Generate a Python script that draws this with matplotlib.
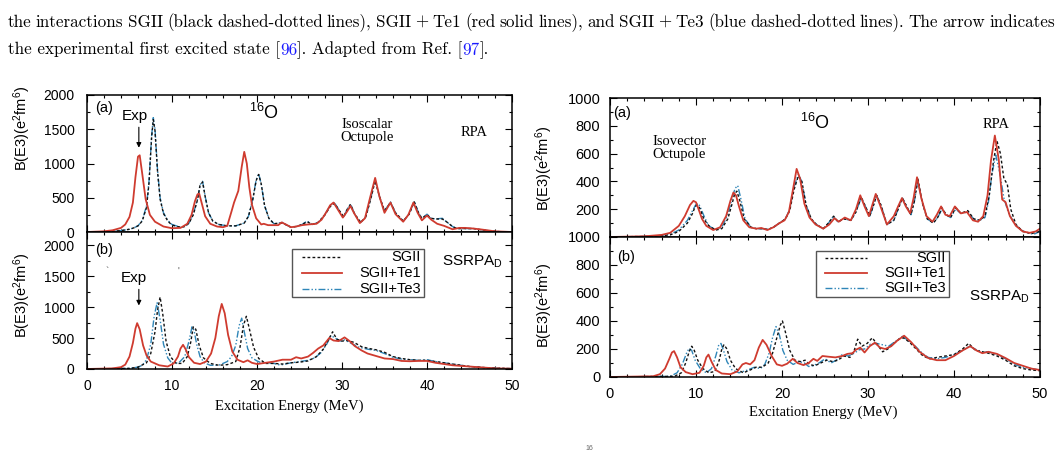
import matplotlib
matplotlib.use("Agg")
import matplotlib.pyplot as plt
from matplotlib.lines import Line2D
from matplotlib.patches import Rectangle

plt.rcParams['font.family'] = ['Liberation Sans', 'DejaVu Sans']
plt.rcParams['mathtext.default'] = 'regular'

# ---------------- data ----------------
series_names = ["SGII", "SGII+Te1", "SGII+Te3"]

# Left (a) isoscalar octupole, RPA
la_te3_x = [0, 2, 4, 5, 5.5, 6, 6.5, 7, 7.3, 7.6, 7.8, 8.0, 8.3, 8.6, 9, 9.5, 10, 11, 11.5, 12, 12.5, 13, 13.3, 13.6, 13.9, 14.3, 14.8, 15.5, 16.5, 17.5, 18.5, 19, 19.5, 19.9, 20.2, 20.5, 20.9, 21.4, 22, 22.6, 23, 23.5, 24, 24.6, 25.3, 25.9, 26.5, 27.2, 28, 28.6, 29.1, 29.6, 30.2, 30.6, 31.0, 31.5, 32.2, 32.8, 33.4, 33.9, 34.4, 35.0, 35.7, 36.3, 37.2, 37.9, 38.5, 39.0, 39.4, 40.0, 40.5, 41.0, 41.8, 42.4, 43, 43.5, 44.5, 45.5, 46.5, 47.5, 48.5, 50]
la_te3_y = [0, 5, 20, 40, 60, 90, 170, 380, 750, 1400, 1670, 1500, 900, 500, 280, 170, 110, 70, 80, 130, 260, 480, 690, 740, 520, 280, 160, 110, 90, 90, 130, 230, 480, 760, 850, 700, 380, 200, 120, 130, 140, 100, 70, 80, 110, 160, 110, 140, 260, 380, 430, 330, 220, 330, 410, 260, 140, 220, 500, 760, 520, 310, 440, 280, 160, 260, 450, 280, 200, 260, 200, 190, 200, 140, 80, 50, 50, 50, 30, 15, 5, 0]
la_sgii_x = la_te3_x
la_sgii_y = [0, 5, 20, 40, 60, 90, 160, 360, 720, 1380, 1640, 1480, 880, 480, 270, 160, 100, 70, 80, 130, 250, 470, 680, 730, 520, 280, 160, 110, 90, 90, 130, 230, 470, 750, 840, 700, 380, 200, 120, 130, 130, 100, 70, 80, 110, 150, 110, 140, 250, 370, 420, 330, 220, 330, 400, 260, 140, 220, 490, 750, 520, 310, 430, 280, 160, 260, 440, 280, 200, 250, 200, 190, 190, 140, 80, 50, 50, 50, 30, 15, 5, 0]
la_te1_x = [0, 2, 3, 4, 4.5, 5, 5.4, 5.7, 6.0, 6.2, 6.5, 6.9, 7.4, 8, 9, 10, 11, 11.8, 12.3, 12.7, 13.0, 13.2, 13.5, 13.9, 14.5, 15.3, 16, 16.5, 17.0, 17.3, 17.8, 18.2, 18.5, 18.8, 19.1, 19.4, 19.9, 20.5, 20.8, 21.3, 22, 22.5, 22.9, 23.4, 24, 24.6, 25.3, 26, 27, 27.6, 28.2, 28.6, 29.0, 29.5, 30.1, 30.6, 31.0, 31.4, 32.1, 32.7, 33.3, 33.9, 34.4, 35.0, 35.7, 36.3, 37.2, 37.8, 38.4, 38.9, 39.4, 40.0, 40.5, 41.2, 42, 43, 43.8, 44.5, 45.5, 46.5, 48, 50]
la_te1_y = [0, 10, 25, 60, 110, 220, 430, 800, 1100, 1120, 850, 480, 250, 150, 80, 55, 60, 120, 250, 450, 550, 560, 420, 230, 120, 80, 70, 90, 300, 430, 600, 950, 1170, 1000, 650, 400, 200, 110, 120, 100, 100, 100, 140, 110, 70, 80, 100, 110, 120, 180, 300, 390, 430, 330, 210, 300, 380, 280, 130, 200, 500, 790, 520, 280, 430, 260, 150, 250, 430, 280, 170, 240, 180, 120, 90, 40, 60, 60, 50, 35, 10, 0]

# Left (b) isoscalar octupole, SSRPA_D
lb_te1_x = [0, 3, 4, 4.5, 5, 5.4, 5.7, 5.9, 6.2, 6.6, 7, 7.5, 8.5, 9.5, 10.2, 10.7, 11.0, 11.3, 11.6, 12.0, 12.6, 13.3, 14, 14.6, 15.1, 15.5, 15.85, 16.2, 16.6, 17.1, 17.7, 18.4, 18.9, 19.4, 20, 21, 22, 23, 24, 24.6, 25.2, 26, 26.6, 27.2, 27.8, 28.5, 29.0, 29.6, 30.3, 30.9, 31.5, 32.3, 33, 34, 35, 36, 37, 38, 39, 40, 41, 42, 43, 44, 45, 46, 47, 48, 50]
lb_te1_y = [0, 10, 30, 70, 200, 420, 650, 740, 640, 380, 220, 120, 60, 40, 90, 200, 330, 390, 320, 190, 100, 80, 120, 250, 500, 850, 1050, 900, 550, 280, 150, 110, 140, 100, 80, 100, 120, 150, 150, 190, 170, 200, 260, 330, 380, 500, 460, 450, 510, 450, 370, 300, 250, 210, 170, 160, 130, 125, 130, 130, 100, 80, 60, 50, 40, 30, 20, 10, 5]
lb_te3_x = [0, 5, 6, 6.5, 7, 7.5, 7.9, 8.25, 8.6, 9, 9.5, 10, 10.8, 11.5, 12.0, 12.35, 12.6, 12.9, 13.3, 13.8, 14.5, 15.5, 16.5, 17.0, 17.5, 17.9, 18.2, 18.5, 18.9, 19.4, 20, 20.5, 21, 22, 22.5, 23, 24, 25, 26, 26.8, 27.5, 28.2, 28.7, 29.2, 29.8, 30.3, 31, 32, 33, 34, 35, 36, 37, 38, 39, 40, 41, 42, 43, 44, 45, 47, 50]
lb_te3_y = [0, 10, 30, 60, 150, 400, 850, 1070, 800, 400, 180, 90, 100, 200, 450, 680, 620, 400, 200, 100, 60, 60, 120, 200, 380, 700, 820, 600, 330, 180, 130, 100, 100, 90, 70, 70, 100, 120, 140, 180, 260, 400, 540, 500, 450, 470, 420, 350, 320, 300, 250, 190, 160, 150, 140, 150, 120, 100, 80, 60, 40, 20, 5]
lb_sgii_x = [0, 5, 6, 7, 7.5, 8.0, 8.3, 8.6, 8.9, 9.3, 9.8, 10.5, 11.2, 11.8, 12.2, 12.5, 12.8, 13.2, 13.7, 14.5, 15.5, 16.5, 17.5, 18.0, 18.4, 18.75, 19.1, 19.6, 20.2, 21, 22, 23, 24, 25, 26, 27, 27.8, 28.4, 28.9, 29.4, 30, 30.6, 31.4, 32.3, 33.2, 34, 35, 36, 37, 38, 39, 40, 41, 42, 43, 44, 45, 47, 50]
lb_sgii_y = [0, 10, 30, 100, 250, 600, 950, 1160, 900, 450, 200, 90, 90, 200, 430, 680, 640, 380, 180, 90, 60, 70, 120, 350, 700, 850, 650, 350, 170, 90, 90, 80, 100, 110, 130, 200, 320, 470, 600, 480, 450, 460, 430, 360, 330, 310, 270, 200, 170, 150, 140, 140, 120, 100, 80, 60, 40, 20, 5]

# Right (a) isovector octupole, RPA
ra_te1_x = [0, 4, 6, 7, 8, 8.7, 9.3, 9.7, 10.0, 10.3, 10.7, 11.2, 12, 12.8, 13.5, 14.0, 14.35, 14.65, 15.0, 15.5, 16.2, 17, 17.6, 18.3, 19, 19.7, 20.3, 20.8, 21.3, 21.7, 22.1, 22.6, 23.2, 23.9, 24.8, 25.5, 26.1, 26.6, 27.3, 28.0, 28.6, 29.1, 29.6, 30.1, 30.5, 30.9, 31.4, 32.2, 33.0, 33.5, 33.95, 34.4, 34.9, 35.3, 35.7, 36.2, 36.8, 37.5, 38.0, 38.5, 39.0, 39.5, 40.1, 40.8, 41.5, 42.2, 42.8, 43.4, 43.9, 44.3, 44.75, 45.2, 45.6, 46.0, 46.5, 47.2, 48, 48.8, 49.5, 50]
ra_te1_y = [0, 5, 15, 30, 80, 150, 230, 260, 250, 200, 130, 80, 50, 70, 150, 260, 320, 300, 220, 120, 70, 60, 65, 50, 70, 100, 120, 180, 350, 490, 420, 240, 140, 90, 60, 90, 135, 110, 140, 120, 200, 300, 220, 150, 230, 310, 230, 90, 150, 220, 280, 220, 170, 280, 430, 280, 150, 110, 160, 220, 160, 150, 220, 170, 180, 120, 110, 150, 300, 550, 730, 560, 270, 250, 150, 80, 40, 30, 40, 60]
ra_te3_x = [0, 5, 7, 8, 9, 9.6, 10.0, 10.3, 10.6, 11.0, 11.5, 12.3, 13.0, 13.7, 14.2, 14.55, 14.85, 15.2, 15.7, 16.4, 17, 17.7, 18.4, 19, 19.7, 20.4, 20.9, 21.4, 21.9, 22.3, 22.8, 23.4, 24, 24.8, 25.4, 26.0, 26.5, 27.2, 28, 28.6, 29.2, 29.7, 30.2, 30.6, 31.0, 31.5, 32.2, 33.0, 33.5, 34.0, 34.5, 35.0, 35.4, 35.8, 36.3, 36.9, 37.6, 38.1, 38.6, 39.1, 39.6, 40.2, 40.8, 41.6, 42.3, 43, 43.6, 44.0, 44.4, 44.85, 45.3, 45.8, 46.3, 47, 47.8, 48.5, 49.3, 50]
ra_te3_y = [0, 5, 20, 50, 120, 190, 235, 240, 200, 140, 80, 50, 70, 160, 280, 350, 370, 280, 130, 70, 60, 60, 55, 70, 100, 130, 200, 360, 450, 400, 230, 130, 90, 60, 100, 150, 110, 130, 120, 180, 280, 220, 150, 220, 300, 230, 90, 120, 200, 280, 220, 160, 260, 410, 250, 130, 100, 140, 200, 160, 140, 200, 170, 180, 130, 120, 140, 250, 450, 590, 470, 280, 180, 100, 50, 30, 20, 40]
ra_sgii_x = [0, 5, 7, 8, 9, 9.6, 9.9, 10.2, 10.5, 10.9, 11.5, 12.3, 13.0, 13.7, 14.2, 14.5, 14.75, 15.1, 15.6, 16.4, 17, 17.7, 18.4, 19, 19.7, 20.4, 20.9, 21.4, 21.9, 22.3, 22.8, 23.4, 24, 24.8, 25.4, 26.0, 26.5, 27.2, 28, 28.6, 29.2, 29.7, 30.2, 30.6, 31.0, 31.5, 32.2, 33.0, 33.5, 34.0, 34.5, 35.0, 35.4, 35.8, 36.3, 36.9, 37.6, 38.1, 38.6, 39.1, 39.6, 40.2, 40.8, 41.6, 42.3, 43, 43.6, 44.1, 44.6, 45.0, 45.4, 45.8, 46.2, 46.6, 47.2, 48, 49, 50]
ra_sgii_y = [0, 5, 15, 40, 100, 170, 220, 230, 200, 130, 80, 50, 60, 130, 240, 310, 330, 260, 130, 70, 60, 60, 55, 70, 100, 130, 190, 340, 440, 400, 230, 130, 90, 60, 100, 150, 110, 130, 120, 180, 290, 220, 150, 220, 300, 230, 90, 120, 200, 280, 220, 160, 260, 420, 250, 130, 100, 140, 210, 160, 140, 210, 170, 190, 130, 120, 150, 300, 550, 690, 600, 420, 380, 200, 90, 40, 25, 40]

# Right (b) isovector octupole, SSRPA_D
rb_te1_x = [0, 5, 5.8, 6.4, 6.9, 7.2, 7.45, 7.8, 8.2, 8.8, 9.6, 10.4, 10.9, 11.2, 11.45, 11.8, 12.3, 13, 14, 14.8, 15.4, 15.8, 16.3, 16.8, 17.3, 17.75, 18.2, 18.8, 19.4, 20, 20.6, 21.25, 21.8, 22.5, 23.1, 23.65, 24.1, 24.7, 25.4, 26.2, 27, 27.6, 28.2, 28.6, 29.1, 29.6, 30.2, 30.8, 31.4, 32.0, 32.7, 33.4, 34.2, 35, 36, 37, 38, 39, 40, 41, 41.9, 42.6, 43.3, 44, 45, 46, 47, 48, 49, 50]
rb_te1_y = [0, 5, 20, 60, 130, 175, 185, 140, 70, 35, 20, 30, 80, 140, 160, 110, 50, 25, 20, 40, 90, 100, 90, 120, 210, 265, 230, 150, 90, 80, 95, 130, 100, 85, 100, 130, 115, 150, 145, 140, 150, 165, 170, 195, 210, 175, 220, 245, 210, 200, 220, 260, 295, 250, 180, 135, 120, 120, 150, 190, 220, 190, 170, 180, 165, 135, 100, 80, 60, 50]
rb_te3_x = [0, 7, 7.8, 8.4, 8.9, 9.2, 9.5, 9.9, 10.5, 11.2, 11.8, 12.3, 12.65, 12.9, 13.2, 13.6, 14.2, 15, 16, 16.8, 17.5, 18.0, 18.5, 18.9, 19.3, 19.7, 20.1, 20.6, 21.3, 22, 22.6, 23.1, 23.6, 24.3, 25, 25.7, 26.3, 27, 27.7, 28.4, 29, 29.6, 30.3, 31, 31.7, 32.4, 33.2, 34, 34.7, 35.5, 36.3, 37, 38, 39, 40, 41, 41.8, 42.6, 43.3, 44, 45, 46, 47, 48, 49, 50]
rb_te3_y = [0, 5, 30, 90, 170, 205, 190, 120, 60, 30, 60, 150, 230, 240, 190, 110, 50, 30, 50, 70, 60, 90, 170, 280, 360, 300, 190, 120, 90, 110, 100, 75, 80, 100, 130, 100, 120, 160, 150, 170, 195, 200, 235, 240, 230, 220, 255, 290, 260, 220, 170, 140, 130, 140, 160, 190, 220, 195, 180, 180, 160, 130, 90, 70, 60, 50]
rb_sgii_x = [0, 7.5, 8.3, 8.8, 9.2, 9.5, 9.8, 10.2, 10.8, 11.5, 12.2, 12.7, 13.0, 13.25, 13.6, 14.0, 14.6, 15.5, 16.3, 17, 17.7, 18.4, 18.9, 19.4, 19.8, 20.05, 20.4, 20.9, 21.5, 22.1, 22.7, 23.2, 23.8, 24.5, 25.2, 25.9, 26.5, 27.2, 27.9, 28.4, 28.8, 29.3, 29.9, 30.5, 31.1, 31.7, 32.3, 33.0, 33.6, 34.1, 34.8, 35.6, 36.4, 37.2, 38, 39, 40, 41, 41.7, 42.5, 43.3, 44, 45, 46, 47, 48, 49, 50]
rb_sgii_y = [0, 5, 30, 100, 180, 220, 190, 120, 60, 30, 40, 120, 200, 230, 200, 120, 60, 30, 50, 70, 70, 100, 170, 280, 370, 400, 320, 190, 120, 110, 120, 90, 80, 100, 120, 110, 120, 150, 140, 190, 270, 220, 240, 280, 230, 180, 200, 240, 270, 280, 250, 200, 150, 130, 140, 150, 160, 200, 240, 190, 180, 170, 150, 120, 80, 60, 50, 45]

# caption text
caption_line1 = ("the interactions SGII (black dashed-dotted lines), SGII + Te1 (red solid lines), "
                 "and SGII + Te3 (blue dashed-dotted lines). The arrow indicates")
caption_line2 = [("the experimental first excited state [", 'black'), ("96", '#1a1aff'),
                 ("]. Adapted from Ref. [", 'black'), ("97", '#1a1aff'), ("].", 'black')]

# ---------------- figure ----------------
W, H = 1061, 451
fig = plt.figure(figsize=(W / 100, H / 100), dpi=100)


def add_ax(x0, y0, x1, y1):
    return fig.add_axes([x0 / W, 1 - y1 / H, (x1 - x0) / W, (y1 - y0) / H])


def ftext(x, y, s, **kw):
    return fig.text(x / W, 1 - y / H, s, **kw)


RED = '#cf3b2f'
BLUE = '#2f86b8'
BLK = '#111111'
SERIF = ['Liberation Serif', 'DejaVu Serif']
sty = {
    "SGII": dict(color=BLK, lw=1.0, ls=(0, (2.0, 1.6))),
    "SGII+Te1": dict(color=RED, lw=1.3, ls='-'),
    "SGII+Te3": dict(color=BLUE, lw=1.0, ls=(0, (5, 1.5, 1, 1.5, 1, 1.5))),
}

LA = add_ax(87, 95, 512, 232)
LB = add_ax(87, 232, 512, 369)
RA = add_ax(610, 98, 1040, 237)
RB = add_ax(610, 237, 1040, 377)

panels = [
    (LA, (la_sgii_x, la_sgii_y), (la_te1_x, la_te1_y), (la_te3_x, la_te3_y)),
    (LB, (lb_sgii_x, lb_sgii_y), (lb_te1_x, lb_te1_y), (lb_te3_x, lb_te3_y)),
    (RA, (ra_sgii_x, ra_sgii_y), (ra_te1_x, ra_te1_y), (ra_te3_x, ra_te3_y)),
    (RB, (rb_sgii_x, rb_sgii_y), (rb_te1_x, rb_te1_y), (rb_te3_x, rb_te3_y)),
]
for ax, sg, t1, t3 in panels:
    ax.plot(*t3, **sty["SGII+Te3"])
    ax.plot(*sg, **sty["SGII"])
    ax.plot(*t1, **sty["SGII+Te1"])
    ax.set_xlim(0, 50)
    ax.set_xticks(range(0, 51, 10))
    ax.set_xticks(range(0, 51, 2), minor=True)
    for s in ax.spines.values():
        s.set_linewidth(1.1)
    ax.tick_params(which='both', direction='in', top=True, right=True, width=0.8)
    ax.tick_params(which='major', length=5)
    ax.tick_params(which='minor', length=2.5)

# left y axes
for ax, top in ((LA, 2000), (LB, 2210)):
    ax.set_ylim(0, top)
    ax.set_yticks(range(0, 2001, 500))
    ax.set_yticks(range(0, 2001, 250), minor=True)
    ax.tick_params(axis='y', labelsize=10, pad=9)
    ax.tick_params(axis='x', labelsize=10, pad=7)
LA.tick_params(axis='x', labelbottom=False)

for ax in (RA, RB):
    ax.set_ylim(0, 1000)
    ax.set_yticks(range(0, 1001, 200))
    ax.set_yticks(range(0, 1001, 100), minor=True)
    ax.tick_params(axis='y', labelsize=10.5, pad=7)
    ax.tick_params(axis='x', labelsize=10.5, pad=7)
RA.set_yticklabels(['', '200', '400', '600', '800', '1000'])
RA.tick_params(axis='x', labelbottom=False)

# y labels
ylab = 'B(E3)(e$^2$fm$^6$)'
ftext(22, 128, ylab, rotation=90, ha='center', va='center', fontsize=10.5)
ftext(22, 295, ylab, rotation=90, ha='center', va='center', fontsize=10.5)
ftext(544, 168, ylab, rotation=90, ha='center', va='center', fontsize=10.5)
ftext(544, 305, ylab, rotation=90, ha='center', va='center', fontsize=10.5)

# x labels
ftext(289, 406, 'Excitation Energy (MeV)', ha='center', va='center', fontsize=10.5, family=SERIF)
ftext(823, 412, 'Excitation Energy (MeV)', ha='center', va='center', fontsize=10.5, family=SERIF)

# annotations left (a)
ftext(95, 108, '(a)', ha='left', va='center', fontsize=10.5)
ftext(135, 116, 'Exp', ha='center', va='center', fontsize=11)
LA.annotate('', xy=(6.1, 1190), xytext=(6.1, 1570),
            arrowprops=dict(arrowstyle='-|>', color='black', lw=0.8, mutation_scale=7))
ftext(264, 113, '$^{16}$O', ha='center', va='center', fontsize=13)
ftext(367, 131, 'Isoscalar\nOctupole', ha='center', va='center', fontsize=10.5,
      family=SERIF, linespacing=1.0)
ftext(474, 133, 'RPA', ha='center', va='center', fontsize=10.5, family=SERIF)

# annotations left (b)
ftext(95, 250, '(b)', ha='left', va='center', fontsize=10.5)
ftext(134, 278, 'Exp', ha='center', va='center', fontsize=11)
LB.annotate('', xy=(6.1, 980), xytext=(6.1, 1330),
            arrowprops=dict(arrowstyle='-|>', color='black', lw=0.8, mutation_scale=7))
ftext(472, 262, 'SSRPA$_D$', ha='center', va='center', fontsize=11)
ftext(107, 272, '`', ha='center', va='center', fontsize=7, color='#555555')
ftext(178, 272, "'", ha='center', va='center', fontsize=7, color='#555555')

# annotations right (a)
ftext(613, 113, '(a)', ha='left', va='center', fontsize=10.5)
ftext(815, 123, '$^{16}$O', ha='center', va='center', fontsize=13)
ftext(652, 148, 'Isovector\nOctupole', ha='left', va='center', fontsize=10.5,
      family=SERIF, linespacing=1.0)
ftext(996, 125, 'RPA', ha='center', va='center', fontsize=10.5, family=SERIF)

# annotations right (b)
ftext(617, 257, '(b)', ha='left', va='center', fontsize=10.5)
ftext(999, 297, 'SSRPA$_D$', ha='center', va='center', fontsize=11)


# legends (boxes with samples, text right-aligned)
def legend_box(x0, y0, x1, y1, sx0, sx1, rows, tx):
    fig.patches.append(Rectangle((x0 / W, 1 - y1 / H), (x1 - x0) / W, (y1 - y0) / H,
                                 transform=fig.transFigure, fill=True, facecolor='white',
                                 edgecolor='#555555', lw=1.0, zorder=5))
    for name, yy in zip(series_names, rows):
        st = sty[name]
        fig.lines.append(Line2D([sx0 / W, sx1 / W], [1 - yy / H, 1 - yy / H],
                                transform=fig.transFigure, zorder=6, **st))
        ftext(tx, yy, name, ha='right', va='center', fontsize=10.5, zorder=6)


legend_box(292, 249, 424, 297, 302, 342, [257, 273, 289], 421)
legend_box(816, 251, 949, 297, 825, 867, [258, 273, 288], 946)

# caption: size from line 2, line 1 justified
fig.canvas.draw()
r = fig.canvas.get_renderer()
probe = ftext(0, 0, "".join(s for s, _ in caption_line2), fontsize=11, family='cmr10')
fs = 11 * 480 / probe.get_window_extent(r).width
probe.remove()

x = 8
for s, c in caption_line2:
    t = ftext(x, 50, s, ha='left', va='center', fontsize=fs, family='cmr10', color=c)
    x += t.get_window_extent(r).width

words = caption_line1.split(' ')
wt = []
for wd in words:
    t = ftext(0, 22, wd, ha='left', va='center', fontsize=fs, family='cmr10')
    wt.append((t, t.get_window_extent(r).width))
gap = (1047 - sum(w for _, w in wt)) / (len(wt) - 1)
x = 8
for t, w in wt:
    t.set_x(x / W)
    x += w + gap

ftext(589, 448, '16', ha='center', va='center', fontsize=5, color='#666666')

fig.savefig('out.png', dpi=100)
